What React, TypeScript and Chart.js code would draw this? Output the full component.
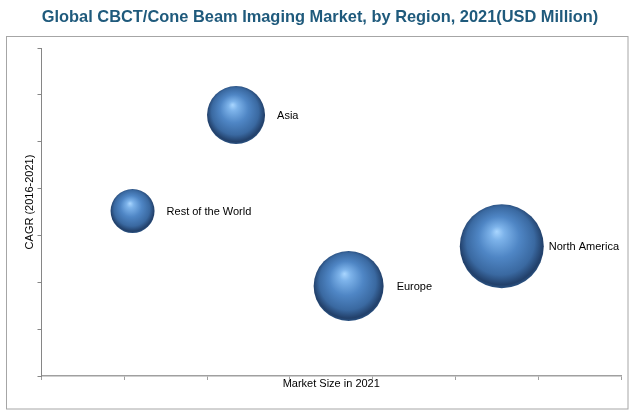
import React, { useEffect, useRef } from "react";
import { Chart, registerables } from "chart.js";

Chart.register(...registerables);

const title = "Global CBCT/Cone Beam Imaging Market, by Region, 2021(USD Million)";
const xTitle = "Market Size in 2021";
const yTitle = "CAGR (2016-2021)";
const regions = ["Asia", "Rest of the World", "Europe", "North America"];
const marketSize = [2.35, 1.1, 3.71, 5.56];
const cagr = [5.57, 3.52, 1.92, 2.77];
const bubbleSize = [29, 22, 35, 42];
const axisMin = 0;
const axisMax = 7;

const labelGap = [12, 12, 13, 5];

function sphereFill(context: any) {
  const chart = context.chart;
  const raw = context.raw;
  if (!raw || !chart.scales || !chart.scales.x || !chart.scales.y) return "#4F81BD";
  const cx = chart.scales.x.getPixelForValue(raw.x);
  const cy = chart.scales.y.getPixelForValue(raw.y);
  const r = raw.r;
  if (!isFinite(cx) || !isFinite(cy) || !isFinite(r)) return "#4F81BD";
  const g = chart.ctx.createRadialGradient(cx - 0.12 * r, cy - 0.35 * r, 0, cx, cy - 0.05 * r, r * 1.08);
  g.addColorStop(0, "#A9D6FF");
  g.addColorStop(0.15, "#7DB3EA");
  g.addColorStop(0.45, "#4F86C5");
  g.addColorStop(0.75, "#3A69A1");
  g.addColorStop(0.92, "#22406A");
  g.addColorStop(1, "#2E5A8C");
  return g;
}

const decorPlugin = {
  id: "decor",
  beforeDraw(chart: any) {
    const ctx = chart.ctx;
    ctx.save();
    ctx.fillStyle = "#ffffff";
    ctx.fillRect(0, 0, chart.width, chart.height);
    ctx.strokeStyle = "#A6A6A6";
    ctx.lineWidth = 1;
    ctx.strokeRect(6.5, 36.5, 621.5, 372.5);
    ctx.fillStyle = "#1F5A7C";
    ctx.font = "bold 16.4px 'Liberation Sans', Arial, sans-serif";
    ctx.textAlign = "center";
    ctx.textBaseline = "middle";
    ctx.fillText(title, 320, 17);
    ctx.fillStyle = "#000000";
    ctx.font = "11px 'Liberation Sans', Arial, sans-serif";
    const xs = chart.scales.x;
    ctx.fillText(xTitle, (xs.left + xs.right) / 2, 384);
    ctx.translate(30, 202);
    ctx.rotate(-Math.PI / 2);
    ctx.fillText(yTitle, 0, 0);
    ctx.restore();
  },
  afterDatasetsDraw(chart: any) {
    const ctx = chart.ctx;
    const meta = chart.getDatasetMeta(0);
    ctx.save();
    ctx.fillStyle = "#000000";
    ctx.font = "11px 'Liberation Sans', Arial, sans-serif";
    ctx.textAlign = "left";
    ctx.textBaseline = "middle";
    meta.data.forEach((el: any, i: number) => {
      const r = bubbleSize[i];
      ctx.fillText(regions[i], el.x + r + labelGap[i], el.y + 1);
    });
    ctx.restore();
  },
};

export default function App() {
  const ref = useRef<HTMLCanvasElement | null>(null);
  useEffect(() => {
    if (!ref.current) return;
    const chart = new Chart(ref.current, {
      type: "bubble",
      data: {
        datasets: [
          {
            label: "Regions",
            data: regions.map((_, i) => ({ x: marketSize[i], y: cagr[i], r: bubbleSize[i] })),
            backgroundColor: sphereFill,
            borderWidth: 0,
            hoverBorderWidth: 0,
            clip: false,
          },
        ],
      },
      plugins: [decorPlugin],
      options: {
        animation: false,
        responsive: true,
        maintainAspectRatio: false,
        layout: { autoPadding: false, padding: { left: 37.5, top: 48, right: 13, bottom: 39 } },
        plugins: { legend: { display: false }, tooltip: { enabled: false }, title: { display: false } },
        scales: {
          x: {
            type: "linear",
            min: axisMin,
            max: axisMax,
            ticks: { display: false, stepSize: 1 },
            grid: { display: true, drawOnChartArea: false, drawTicks: true, tickLength: 4, color: "#A0A0A0" },
            border: { display: true, color: "#A0A0A0", width: 1.5 },
          },
          y: {
            type: "linear",
            min: axisMin,
            max: axisMax,
            ticks: { display: false, stepSize: 1 },
            grid: { display: true, drawOnChartArea: false, drawTicks: true, tickLength: 4, color: "#868686" },
            border: { display: true, color: "#868686", width: 1 },
          },
        },
      },
    });
    return () => chart.destroy();
  }, []);
  return (
    <div style={{ position: "fixed", left: 0, top: 0, width: 634, height: 419, background: "#fff" }}>
      <canvas ref={ref} />
    </div>
  );
}
